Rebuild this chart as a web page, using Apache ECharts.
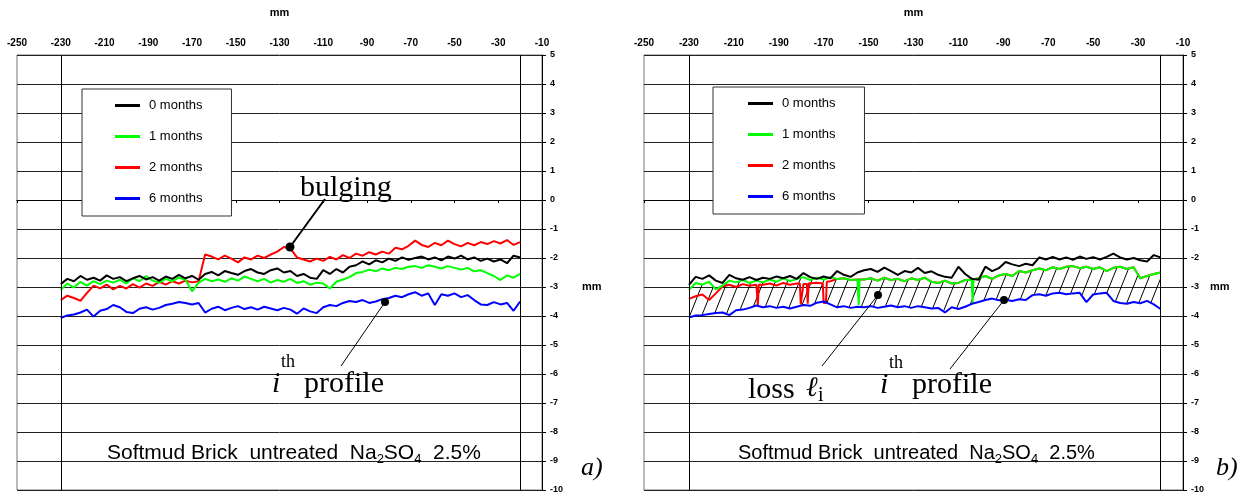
<!DOCTYPE html>
<html>
<head>
<meta charset="utf-8">
<script src="https://cdn.jsdelivr.net/npm/echarts@6/dist/echarts.min.js"></script>
<style>
  html, body { margin: 0; padding: 0; background: #fff; }
  #main { width: 1247px; height: 497px; }
</style>
</head>
<body>
<div id="main"></div>
<script>
// sample positions along the profile (mm)
var positionsMm = [-230,-227,-224,-221,-218,-215,-212,-209,-206,-203,-200,-197,-194,-191,-188,-185,-182,-179,-176,-173,
  -170,-167,-164,-161,-158,-155,-152,-149,-146,-143,-140,-137,-134,-131,-128,-125,-122,-119,-116,-113,
  -110,-107,-104,-101,-98,-95,-92,-89,-86,-83,-80,-77,-74,-71,-68,-65,-62,-59,-56,-53,
  -50,-47,-44,-41,-38,-35,-32,-29,-26,-23,-20];

var seriesNames = ['0 months', '1 months', '2 months', '6 months'];
var seriesColors = ['#000000', '#00ff00', '#ff0000', '#0000ff'];
var guideLinesMm = [-230, -20];

// panel a) profiles
var blackA = [-2.90,-2.72,-2.80,-2.62,-2.75,-2.68,-2.78,-2.60,-2.72,-2.66,
  -2.80,-2.70,-2.62,-2.74,-2.66,-2.78,-2.64,-2.72,-2.58,-2.70,
  -2.62,-2.75,-2.55,-2.48,-2.60,-2.45,-2.52,-2.58,-2.45,-2.38,
  -2.50,-2.55,-2.42,-2.36,-2.50,-2.45,-2.62,-2.55,-2.68,-2.72,
  -2.42,-2.55,-2.38,-2.50,-2.30,-2.25,-2.12,-2.22,-2.08,-2.15,
  -2.02,-2.10,-1.98,-2.06,-2.00,-1.95,-2.05,-1.98,-2.08,-1.95,
  -2.02,-1.92,-2.05,-1.98,-2.10,-2.02,-2.12,-2.05,-2.18,-1.92,
  -1.98];
var greenA = [-3.10,-2.88,-3.02,-2.82,-2.95,-2.80,-2.90,-2.78,-2.85,-2.75,
  -2.88,-2.70,-2.80,-2.62,-2.78,-2.85,-2.72,-2.80,-2.68,-2.75,
  -3.15,-2.85,-2.72,-2.80,-2.74,-2.82,-2.70,-2.78,-2.64,-2.72,
  -2.80,-2.72,-2.85,-2.76,-2.82,-2.72,-2.86,-2.80,-2.92,-2.85,
  -2.88,-3.05,-2.82,-2.74,-2.66,-2.52,-2.48,-2.40,-2.46,-2.36,
  -2.42,-2.34,-2.38,-2.30,-2.28,-2.34,-2.25,-2.30,-2.36,-2.28,
  -2.34,-2.40,-2.34,-2.46,-2.42,-2.52,-2.62,-2.76,-2.60,-2.68,
  -2.55];
var redA = [-3.45,-3.30,-3.38,-3.48,-3.20,-2.95,-3.05,-2.92,-3.08,-2.96,
  -3.05,-2.90,-3.02,-2.88,-2.96,-2.82,-2.92,-2.80,-2.88,-2.78,
  -2.84,-2.80,-1.88,-1.95,-2.05,-1.92,-2.02,-2.15,-1.98,-2.05,
  -1.92,-2.00,-1.88,-1.78,-1.62,-1.68,-1.98,-2.05,-2.12,-2.02,
  -2.10,-1.96,-2.05,-1.90,-2.00,-1.85,-1.92,-1.80,-1.88,-1.78,
  -1.85,-1.65,-1.70,-1.58,-1.40,-1.55,-1.62,-1.48,-1.56,-1.40,
  -1.52,-1.60,-1.48,-1.56,-1.45,-1.52,-1.42,-1.50,-1.38,-1.55,
  -1.45];
var blueA = [-4.07,-3.98,-3.95,-3.88,-3.78,-4.02,-3.82,-3.76,-3.62,-3.70,
  -3.86,-3.90,-3.75,-3.70,-3.78,-3.72,-3.62,-3.58,-3.52,-3.55,
  -3.60,-3.55,-3.88,-3.75,-3.68,-3.80,-3.72,-3.66,-3.76,-3.70,
  -3.78,-3.68,-3.74,-3.80,-3.72,-3.78,-3.92,-3.74,-3.84,-3.90,
  -3.70,-3.62,-3.66,-3.55,-3.48,-3.52,-3.45,-3.55,-3.50,-3.42,
  -3.38,-3.30,-3.35,-3.25,-3.18,-3.30,-3.22,-3.62,-3.25,-3.30,
  -3.22,-3.35,-3.28,-3.45,-3.60,-3.62,-3.52,-3.60,-3.55,-3.82,
  -3.50];

// panel b) profiles
var blackB = [-2.93,-2.65,-2.72,-2.60,-2.78,-2.86,-2.58,-2.70,-2.75,-2.66,
  -2.76,-2.68,-2.72,-2.64,-2.70,-2.62,-2.72,-2.52,-2.66,-2.72,
  -2.64,-2.70,-2.45,-2.58,-2.65,-2.50,-2.42,-2.38,-2.48,-2.33,
  -2.45,-2.58,-2.45,-2.50,-2.34,-2.52,-2.46,-2.58,-2.65,-2.68,
  -2.30,-2.55,-2.72,-2.75,-2.30,-2.45,-2.35,-2.14,-2.22,-2.28,
  -2.20,-2.25,-1.98,-2.05,-1.96,-2.05,-1.98,-2.06,-1.95,-2.03,
  -1.97,-2.05,-1.96,-1.85,-1.98,-2.05,-2.00,-2.08,-2.12,-1.90,
  -1.98];
var greenB = [-3.10,-2.86,-2.92,-2.82,-3.08,-2.95,-2.78,-2.84,-2.76,-2.86,
  -2.78,-2.84,-2.74,-2.82,-2.70,-2.80,-2.72,-2.66,-2.76,-2.68,
  -2.74,-2.66,-2.72,-2.70,-2.76,-2.74,-2.74,-2.70,-2.78,-2.68,
  -2.76,-2.72,-2.80,-2.70,-2.76,-2.68,-2.82,-2.86,-2.78,-2.88,
  -2.86,-2.76,-2.74,-2.70,-2.62,-2.72,-2.60,-2.55,-2.62,-2.45,
  -2.50,-2.42,-2.36,-2.42,-2.32,-2.38,-2.30,-2.28,-2.35,-2.30,
  -2.38,-2.32,-2.45,-2.34,-2.30,-2.38,-2.32,-2.70,-2.62,-2.55,
  -2.50];
var greenBSpikes = [[-154.8,-2.74],[-154.4,-3.62],[-154.0,-2.74],
  [-104.1,-2.76],[-103.7,-3.55],[-103.3,-2.74]];
var redB = [-3.41,-3.32,-3.26,-3.45,-3.22,-2.98,-2.92,-3.00,-2.90,-2.96,
  -2.92,-2.92,-2.88,-2.95,-2.86,-2.92,-2.88,-2.90,-2.86,-2.85,
  -2.88,-2.80,-2.72,-2.70,-2.76,-2.74,-2.74,-2.70,-2.78,-2.68,
  -2.76,-2.72,-2.80,-2.70,-2.76,-2.68,-2.82,-2.86,-2.78,-2.88,
  -2.86,-2.76,-2.74,-2.70,-2.62,-2.72,-2.60,-2.55,-2.62,-2.45,
  -2.50,-2.42,-2.36,-2.42,-2.32,-2.38,-2.30,-2.28,-2.35,-2.30,
  -2.38,-2.32,-2.45,-2.34,-2.30,-2.38,-2.32,-2.70,-2.62,-2.55,
  -2.50];
var redBSpikes = [[-199.7,-2.92],[-199.3,-3.62],[-198.9,-2.92],
  [-180.6,-2.88],[-180.2,-3.60],[-179.4,-3.60],[-179.0,-2.90],
  [-177.5,-2.90],[-177.1,-3.58],[-176.7,-2.88],
  [-170.4,-2.88],[-170.0,-3.55],[-169.0,-3.55],[-168.6,-2.82]];
var blueB = [-4.05,-3.98,-3.97,-3.93,-3.90,-3.88,-3.97,-3.80,-3.78,-3.72,
  -3.64,-3.70,-3.66,-3.72,-3.68,-3.74,-3.68,-3.62,-3.65,-3.54,
  -3.50,-3.60,-3.70,-3.66,-3.72,-3.68,-3.70,-3.66,-3.72,-3.68,
  -3.64,-3.70,-3.66,-3.72,-3.66,-3.70,-3.74,-3.72,-3.88,-3.70,
  -3.76,-3.68,-3.58,-3.52,-3.45,-3.40,-3.46,-3.44,-3.48,-3.42,
  -3.45,-3.28,-3.25,-3.30,-3.22,-3.20,-3.25,-3.22,-3.20,-3.52,
  -3.26,-3.22,-3.20,-3.48,-3.55,-3.58,-3.52,-3.56,-3.48,-3.60,
  -3.76];

var SANS = 'Arial, "Liberation Sans", sans-serif';
var SERIF = '"Times New Roman", "Liberation Serif", serif';

function pairs(xs, ys) {
  return xs.map(function (x, i) { return [x, ys[i]]; });
}
function withSpikes(xs, ys, spikes) {
  return pairs(xs, ys).concat(spikes).sort(function (a, b) { return a[0] - b[0]; });
}

// hatch tile for the loss area
var tile = document.createElement('canvas');
tile.width = 12; tile.height = 30;
var tc = tile.getContext('2d');
tc.strokeStyle = '#000'; tc.lineWidth = 1;
[-12, 0, 12].forEach(function (dx) {
  tc.beginPath(); tc.moveTo(dx, 30); tc.lineTo(dx + 12, 0); tc.stroke();
});

function topAxis(g) {
  return {
    type: 'value', gridIndex: g, position: 'top', min: -250, max: -10, interval: 20,
    name: 'mm', nameLocation: 'middle', nameGap: 37,
    nameTextStyle: { fontFamily: SANS, fontWeight: 'bold', fontSize: 11, color: '#000' },
    axisLine: { show: false, onZero: false },
    axisTick: { show: false },
    axisLabel: { margin: 7, fontFamily: SANS, fontSize: 10, fontWeight: 'bold', color: '#000',
      showMinLabel: true, showMaxLabel: true },
    splitLine: { show: false }
  };
}
function zeroAxis(g) {
  return {
    type: 'value', gridIndex: g, position: 'bottom', min: -250, max: -10, interval: 20,
    axisLine: { show: true, onZero: true, lineStyle: { color: '#000', width: 1 } },
    axisTick: { show: true, length: 3, lineStyle: { color: '#000' } },
    axisLabel: { show: false },
    splitLine: { show: false }
  };
}
function rightAxis(g) {
  return {
    type: 'value', gridIndex: g, position: 'right', min: -10, max: 5, interval: 1,
    axisLine: { show: true, onZero: false, lineStyle: { color: '#000', width: 1 } },
    axisTick: { show: true, length: 4, lineStyle: { color: '#000' } },
    axisLabel: { margin: 8, fontFamily: SANS, fontSize: 9, fontWeight: 'bold', color: '#000' },
    splitLine: { show: true, lineStyle: { color: '#222', width: 1 } }
  };
}
function legendBox(left, top, padLeft) {
  return {
    left: left, top: top, orient: 'vertical', data: seriesNames, icon: 'rect',
    itemWidth: 25, itemHeight: 3, itemGap: 18, padding: [10, 29, 11, padLeft],
    borderColor: '#333', borderWidth: 1, backgroundColor: '#fff', selectedMode: false,
    textStyle: { fontFamily: SANS, fontSize: 13, color: '#000', padding: [0, 0, 0, 4] }
  };
}
function profile(name, color, data, axis, extra) {
  var s = {
    name: name, type: 'line', xAxisIndex: axis * 2, yAxisIndex: axis, data: data,
    showSymbol: false, symbol: 'none', color: color,
    lineStyle: { color: color, width: 2 }, z: 3
  };
  return Object.assign(s, extra || {});
}
var guides = {
  silent: true, symbol: ['none', 'none'], label: { show: false },
  lineStyle: { color: '#000', width: 1, type: 'solid' },
  data: guideLinesMm.map(function (v) { return { xAxis: v }; })
};

// hatched loss area between the 1-month and 6-month profiles (panel b)
function renderLoss(params, api) {
  if (params.dataIndex !== 0) return;
  var pts = [];
  for (var i = 0; i < positionsMm.length; i++) pts.push(api.coord([positionsMm[i], greenB[i]]));
  for (var j = positionsMm.length - 1; j >= 0; j--) pts.push(api.coord([positionsMm[j], blueB[j]]));
  return {
    type: 'polygon', shape: { points: pts },
    style: { fill: { type: 'pattern', image: tile, repeat: 'repeat' }, stroke: null }
  };
}

function txt(x, y, text, font, extra) {
  return Object.assign({ type: 'text', z: 100, style: { x: x, y: y, text: text, font: font, fill: '#000',
    align: 'left', verticalAlign: 'middle' } }, extra || {});
}
function caption(x, y, size) {
  return { type: 'text', z: 100, style: {
    x: x, y: y, verticalAlign: 'middle', fill: '#000',
    text: '{n|Softmud Brick  untreated  Na}{s|2}{n|SO}{s|4}{n|  2.5%}',
    rich: { n: { fontFamily: SANS, fontSize: size, lineHeight: 26, fill: '#000' },
            s: { fontFamily: SANS, fontSize: 13, lineHeight: 13, verticalAlign: 'bottom', fill: '#000' } }
  } };
}

var option = {
  animation: false,
  backgroundColor: '#fff',
  grid: [
    { left: 17, top: 55, width: 525, height: 435, show: true, borderColor: '#777', borderWidth: 1 },
    { left: 644, top: 55, width: 539, height: 435, show: true, borderColor: '#777', borderWidth: 1 }
  ],
  xAxis: [topAxis(0), zeroAxis(0), topAxis(1), zeroAxis(1)],
  yAxis: [rightAxis(0), rightAxis(1)],
  legend: [legendBox(82, 89, 33), legendBox(713, 87, 35)],
  series: [
    profile(seriesNames[2], seriesColors[2], pairs(positionsMm, redA), 0, { markLine: guides }),
    profile(seriesNames[1], seriesColors[1], pairs(positionsMm, greenA), 0),
    profile(seriesNames[0], seriesColors[0], pairs(positionsMm, blackA), 0),
    profile(seriesNames[3], seriesColors[3], pairs(positionsMm, blueA), 0),

    { name: 'loss', type: 'custom', xAxisIndex: 2, yAxisIndex: 1, silent: true, z: 1,
      data: [[positionsMm[0], greenB[0]]], renderItem: renderLoss },

    profile(seriesNames[2], seriesColors[2], withSpikes(positionsMm, redB, redBSpikes), 1, { markLine: guides }),
    profile(seriesNames[1], seriesColors[1], withSpikes(positionsMm, greenB, greenBSpikes), 1),
    profile(seriesNames[0], seriesColors[0], pairs(positionsMm, blackB), 1),
    profile(seriesNames[3], seriesColors[3], pairs(positionsMm, blueB), 1)
  ],
  graphic: [
    // axis unit on the right
    txt(582, 287, 'mm', 'bold 11px ' + SANS),
    txt(1210, 287, 'mm', 'bold 11px ' + SANS),

    // panel a annotations
    { type: 'line', z: 100, shape: { x1: 325, y1: 199, x2: 290, y2: 247 }, style: { stroke: '#000', lineWidth: 2 } },
    { type: 'circle', z: 100, shape: { cx: 290, cy: 247, r: 4.5 }, style: { fill: '#000' } },
    txt(300, 188, 'bulging', '30px ' + SERIF),
    { type: 'line', z: 100, shape: { x1: 385, y1: 302, x2: 341, y2: 366 }, style: { stroke: '#000', lineWidth: 1 } },
    { type: 'circle', z: 100, shape: { cx: 385, cy: 302, r: 4 }, style: { fill: '#000' } },
    txt(272, 384, 'i', 'italic 30px ' + SERIF),
    txt(281, 362, 'th', '18px ' + SERIF),
    txt(304, 384, 'profile', '30px ' + SERIF),

    // panel b annotations
    { type: 'line', z: 100, shape: { x1: 878, y1: 295, x2: 822, y2: 366 }, style: { stroke: '#000', lineWidth: 1 } },
    { type: 'circle', z: 100, shape: { cx: 878, cy: 295, r: 4 }, style: { fill: '#000' } },
    { type: 'line', z: 100, shape: { x1: 1004, y1: 300, x2: 950, y2: 369 }, style: { stroke: '#000', lineWidth: 1 } },
    { type: 'circle', z: 100, shape: { cx: 1004, cy: 300, r: 4 }, style: { fill: '#000' } },
    txt(748, 390, 'loss', '30px ' + SERIF),
    txt(806, 389, '\u2113', 'italic 28px ' + SERIF),
    txt(818, 396, 'i', '20px ' + SERIF),
    txt(880, 385, 'i', 'italic 30px ' + SERIF),
    txt(889, 363, 'th', '18px ' + SERIF),
    txt(912, 385, 'profile', '30px ' + SERIF),

    // sample captions
    caption(107, 453, 21),
    caption(738, 453, 20),

    txt(581, 468, 'a)', 'italic 26px ' + SERIF),
    txt(1216, 468, 'b)', 'italic 26px ' + SERIF)
  ]
};

var myChart = echarts.init(document.getElementById('main'));
myChart.setOption(option);
</script>
</body>
</html>
